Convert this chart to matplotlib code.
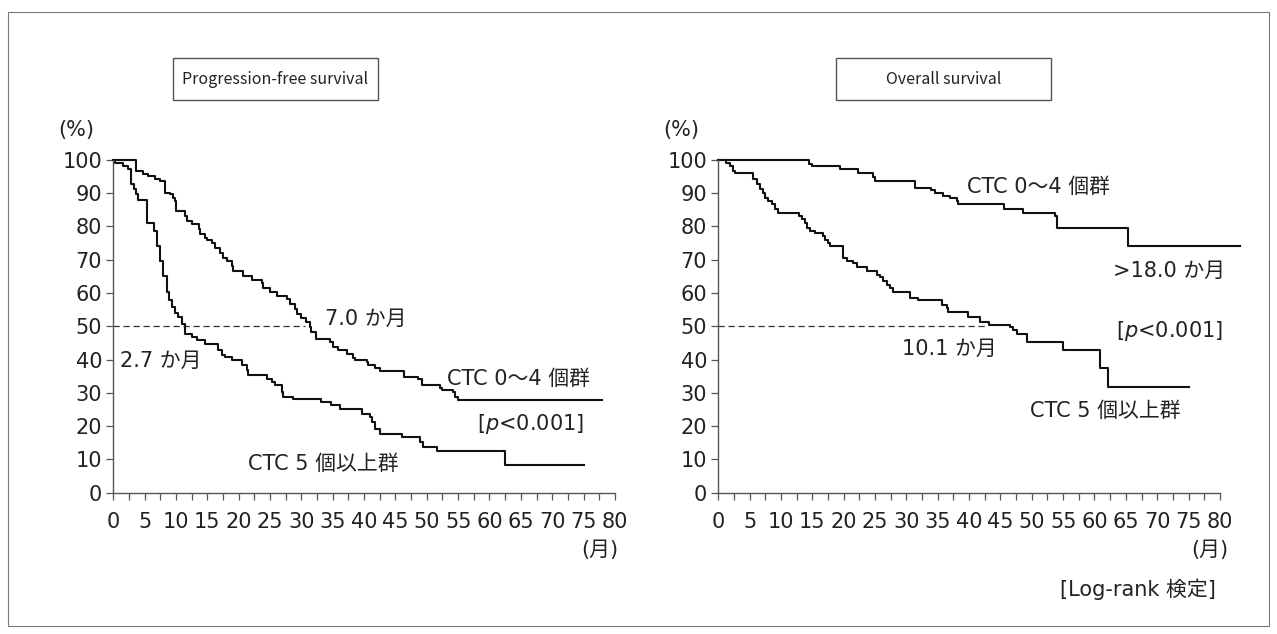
import matplotlib
matplotlib.use("Agg")
import matplotlib.pyplot as plt
from matplotlib.patches import Rectangle

plt.rcParams['font.family'] = ['DejaVu Sans', 'Noto Sans CJK JP']

# ---------------------------------------------------------------------------
# data (months, %)
# ---------------------------------------------------------------------------
# Progression-free survival, CTC 0-4
pfs_lo_t = [0, 3.7, 4.8, 5.6, 6.6, 7.5, 8.2, 9.0, 9.6, 9.8,
            10.0, 11.4, 11.7, 12.5, 13.6, 13.8, 14.6, 14.9, 15.7, 16.2,
            17.0, 17.5, 18.1, 18.9, 19.1, 20.7, 22.1, 23.7, 23.9, 25.0,
            26.1, 27.7, 28.2, 29.0, 29.3, 30.0, 30.8, 31.4, 31.6, 32.4,
            34.6, 35.1, 35.9, 37.2, 38.3, 38.5, 40.4, 40.7, 41.7, 42.5,
            46.3, 48.6, 49.2, 52.1, 52.4, 54.2, 54.5, 55.0]
pfs_lo_s = [100, 96.7, 95.7, 95.2, 94.2, 93.7, 90.1, 89.6, 88.6, 87.6,
            84.6, 83.1, 81.6, 80.6, 79.1, 77.6, 76.5, 76.0, 75.0, 73.5,
            72.0, 70.5, 69.5, 68.0, 66.5, 65.0, 64.0, 62.9, 61.4, 60.2,
            59.2, 58.2, 56.7, 55.2, 53.7, 52.5, 51.3, 49.7, 48.2, 46.3,
            45.3, 43.8, 42.8, 41.8, 40.5, 39.8, 39.3, 38.3, 37.3, 36.5,
            34.7, 34.2, 32.2, 31.4, 30.7, 30.2, 28.7, 27.7]
pfs_lo_end = 77.9

# Progression-free survival, CTC >= 5
pfs_hi_t = [0, 0.3, 1.6, 2.4, 2.8, 2.9, 3.35, 3.7, 4.0, 5.3,
            6.5, 6.9, 7.4, 8.0, 8.5, 8.9, 9.3, 9.8, 10.3, 11.0,
            11.4, 12.5, 13.3, 14.6, 16.7, 17.3, 17.8, 18.9, 20.5, 21.3,
            21.5, 24.5, 25.3, 25.8, 26.9, 27.1, 28.7, 33.2, 34.8, 36.2,
            39.6, 40.9, 41.2, 41.7, 42.5, 46.0, 48.9, 49.4, 51.6, 62.5]
pfs_hi_s = [100, 99.0, 98.2, 97.2, 95.7, 92.7, 91.1, 89.8, 87.8, 81.1,
            78.5, 74.0, 69.5, 65.0, 60.4, 57.9, 55.9, 53.9, 52.9, 50.8,
            47.8, 46.8, 45.8, 44.8, 42.8, 41.3, 40.8, 39.8, 38.3, 36.8,
            35.4, 34.0, 33.2, 32.2, 30.2, 28.7, 28.2, 27.2, 26.2, 25.2,
            23.7, 22.7, 21.1, 19.1, 17.6, 16.6, 15.1, 13.6, 12.6, 8.3]
pfs_hi_end = 75.0

# Overall survival, CTC 0-4
os_lo_t = [0, 14.4, 14.9, 19.4, 22.3, 24.7, 25.0, 31.4, 34.0, 34.6,
           35.9, 37.0, 38.0, 38.3, 45.5, 48.6, 53.7, 54.0, 65.4]
os_lo_s = [100, 98.7, 98.2, 97.2, 95.9, 94.7, 93.5, 91.6, 90.8, 90.1,
           89.1, 88.6, 87.6, 86.6, 85.1, 84.1, 83.1, 79.6, 74.0]
os_lo_end = 83.2

# Overall survival, CTC >= 5
os_hi_t = [0, 1.3, 1.9, 2.4, 2.7, 5.6, 6.1, 6.6, 7.2, 7.4,
           8.0, 8.5, 9.0, 9.6, 12.8, 13.3, 13.8, 14.1, 14.6, 15.4,
           16.7, 17.0, 17.5, 17.8, 19.9, 20.5, 21.5, 22.1, 23.7, 25.3,
           25.8, 26.3, 26.9, 27.4, 27.9, 30.6, 31.9, 35.6, 36.4, 36.7,
           39.9, 41.7, 43.1, 46.5, 47.0, 47.6, 49.2, 55.0, 60.9, 62.2]
os_hi_s = [100, 99.0, 98.2, 96.7, 95.9, 94.2, 92.7, 91.1, 90.1, 88.6,
           87.6, 86.6, 85.1, 84.1, 83.1, 82.1, 81.1, 79.6, 78.5, 78.0,
           77.0, 76.0, 75.0, 74.0, 70.5, 69.5, 69.0, 67.7, 66.7, 65.5,
           64.7, 63.5, 62.4, 61.4, 60.2, 58.6, 57.9, 56.4, 55.4, 54.4,
           52.9, 51.4, 50.4, 49.8, 48.8, 47.8, 45.3, 42.8, 37.3, 31.7]
os_hi_end = 75.0

# medians where the dashed 50 % line stops
pfs_median_x = 30.6
os_median_x = 43.0

y_ticks = list(range(0, 101, 10))
x_ticks = list(range(0, 81, 5))
x_minor = [x + 2.5 for x in range(0, 80, 5)]

# ---------------------------------------------------------------------------
# layout
# ---------------------------------------------------------------------------
W, H = 1277, 634
PX_MONTH = 6.27
X_MAX = 84
AX_TOP, AX_BOT = 159.7, 492.7
TXT = '#222222'
AXC = '#555555'

fig = plt.figure(figsize=(W / 100, H / 100), dpi=100)
fig.patches.append(Rectangle((8 / W, 1 - 626 / H), 1261 / W, 614 / H,
                             transform=fig.transFigure, fill=False,
                             ec='#777777', lw=0.8))


def make_axes(x0):
    ax = fig.add_axes([x0 / W, 1 - AX_BOT / H, X_MAX * PX_MONTH / W, (AX_BOT - AX_TOP) / H])
    ax.set_xlim(0, X_MAX)
    ax.set_ylim(0, 100)
    ax.patch.set_alpha(0)
    for s in ['top', 'right']:
        ax.spines[s].set_visible(False)
    for s in ['left', 'bottom']:
        ax.spines[s].set_color(AXC)
        ax.spines[s].set_linewidth(1.0)
    ax.spines['bottom'].set_bounds(0, 80)
    ax.set_yticks(y_ticks)
    ax.set_xticks(x_ticks)
    ax.set_xticks(x_minor, minor=True)
    ax.tick_params(which='both', direction='out', length=5, width=0.9, color=AXC)
    ax.tick_params(axis='x', pad=9, labelsize=15, labelcolor=TXT)
    ax.tick_params(axis='y', pad=3, labelsize=15, labelcolor=TXT)
    return ax


def km(ax, t, s, end):
    ax.step(list(t) + [end], list(s) + [s[-1]], where='post', color='#111111',
            lw=1.5, clip_on=False)


def label(ax, x, y, txt, **kw):
    ax.text(x, y, txt, ha='left', va='center', fontsize=15, color=TXT,
            clip_on=False, **kw)


def title_box(x0, x1, txt):
    y0, y1 = 58, 100
    fig.patches.append(Rectangle((x0 / W, 1 - y1 / H), (x1 - x0) / W, (y1 - y0) / H,
                                 transform=fig.transFigure, fill=False,
                                 ec='#555555', lw=1.0))
    fig.text((x0 + x1) / 2 / W, 1 - (y0 + y1) / 2 / H, txt, ha='center', va='center',
             fontsize=11.5, color=TXT, family=['Noto Sans CJK JP'])


# ---------------------------------------------------------------------------
# left: progression-free survival
# ---------------------------------------------------------------------------
ax1 = make_axes(113.3)
ax1.plot([0, pfs_median_x], [50, 50], ls=(0, (5, 3)), color='#333333', lw=0.9)
km(ax1, pfs_lo_t, pfs_lo_s, pfs_lo_end)
km(ax1, pfs_hi_t, pfs_hi_s, pfs_hi_end)
label(ax1, -8.8, 108.8, '(%)')
label(ax1, 33.8, 52.3, '7.0 か月')
label(ax1, 1.1, 39.6, '2.7 か月')
label(ax1, 53.2, 34.1, 'CTC 0〜4 個群')
label(ax1, 58.0, 20.6, '[$p$<0.001]')
label(ax1, 21.5, 8.5, 'CTC 5 個以上群')
label(ax1, 74.6, -17.2, '(月)')
title_box(173, 378, 'Progression-free survival')

# ---------------------------------------------------------------------------
# right: overall survival
# ---------------------------------------------------------------------------
ax2 = make_axes(718.3)
ax2.plot([0, os_median_x], [50, 50], ls=(0, (5, 3)), color='#333333', lw=0.9)
km(ax2, os_lo_t, os_lo_s, os_lo_end)
km(ax2, os_hi_t, os_hi_s, os_hi_end)
label(ax2, -8.8, 108.8, '(%)')
label(ax2, 39.6, 91.8, 'CTC 0〜4 個群')
label(ax2, 62.9, 66.7, '>18.0 か月')
label(ax2, 63.5, 48.5, '[$p$<0.001]')
label(ax2, 29.3, 43.1, '10.1 か月')
label(ax2, 49.7, 24.4, 'CTC 5 個以上群')
label(ax2, 75.5, -17.2, '(月)')
label(ax2, 54.5, -29.0, '[Log-rank 検定]')
title_box(836, 1051, 'Overall survival')

fig.savefig('out.png', dpi=100)
